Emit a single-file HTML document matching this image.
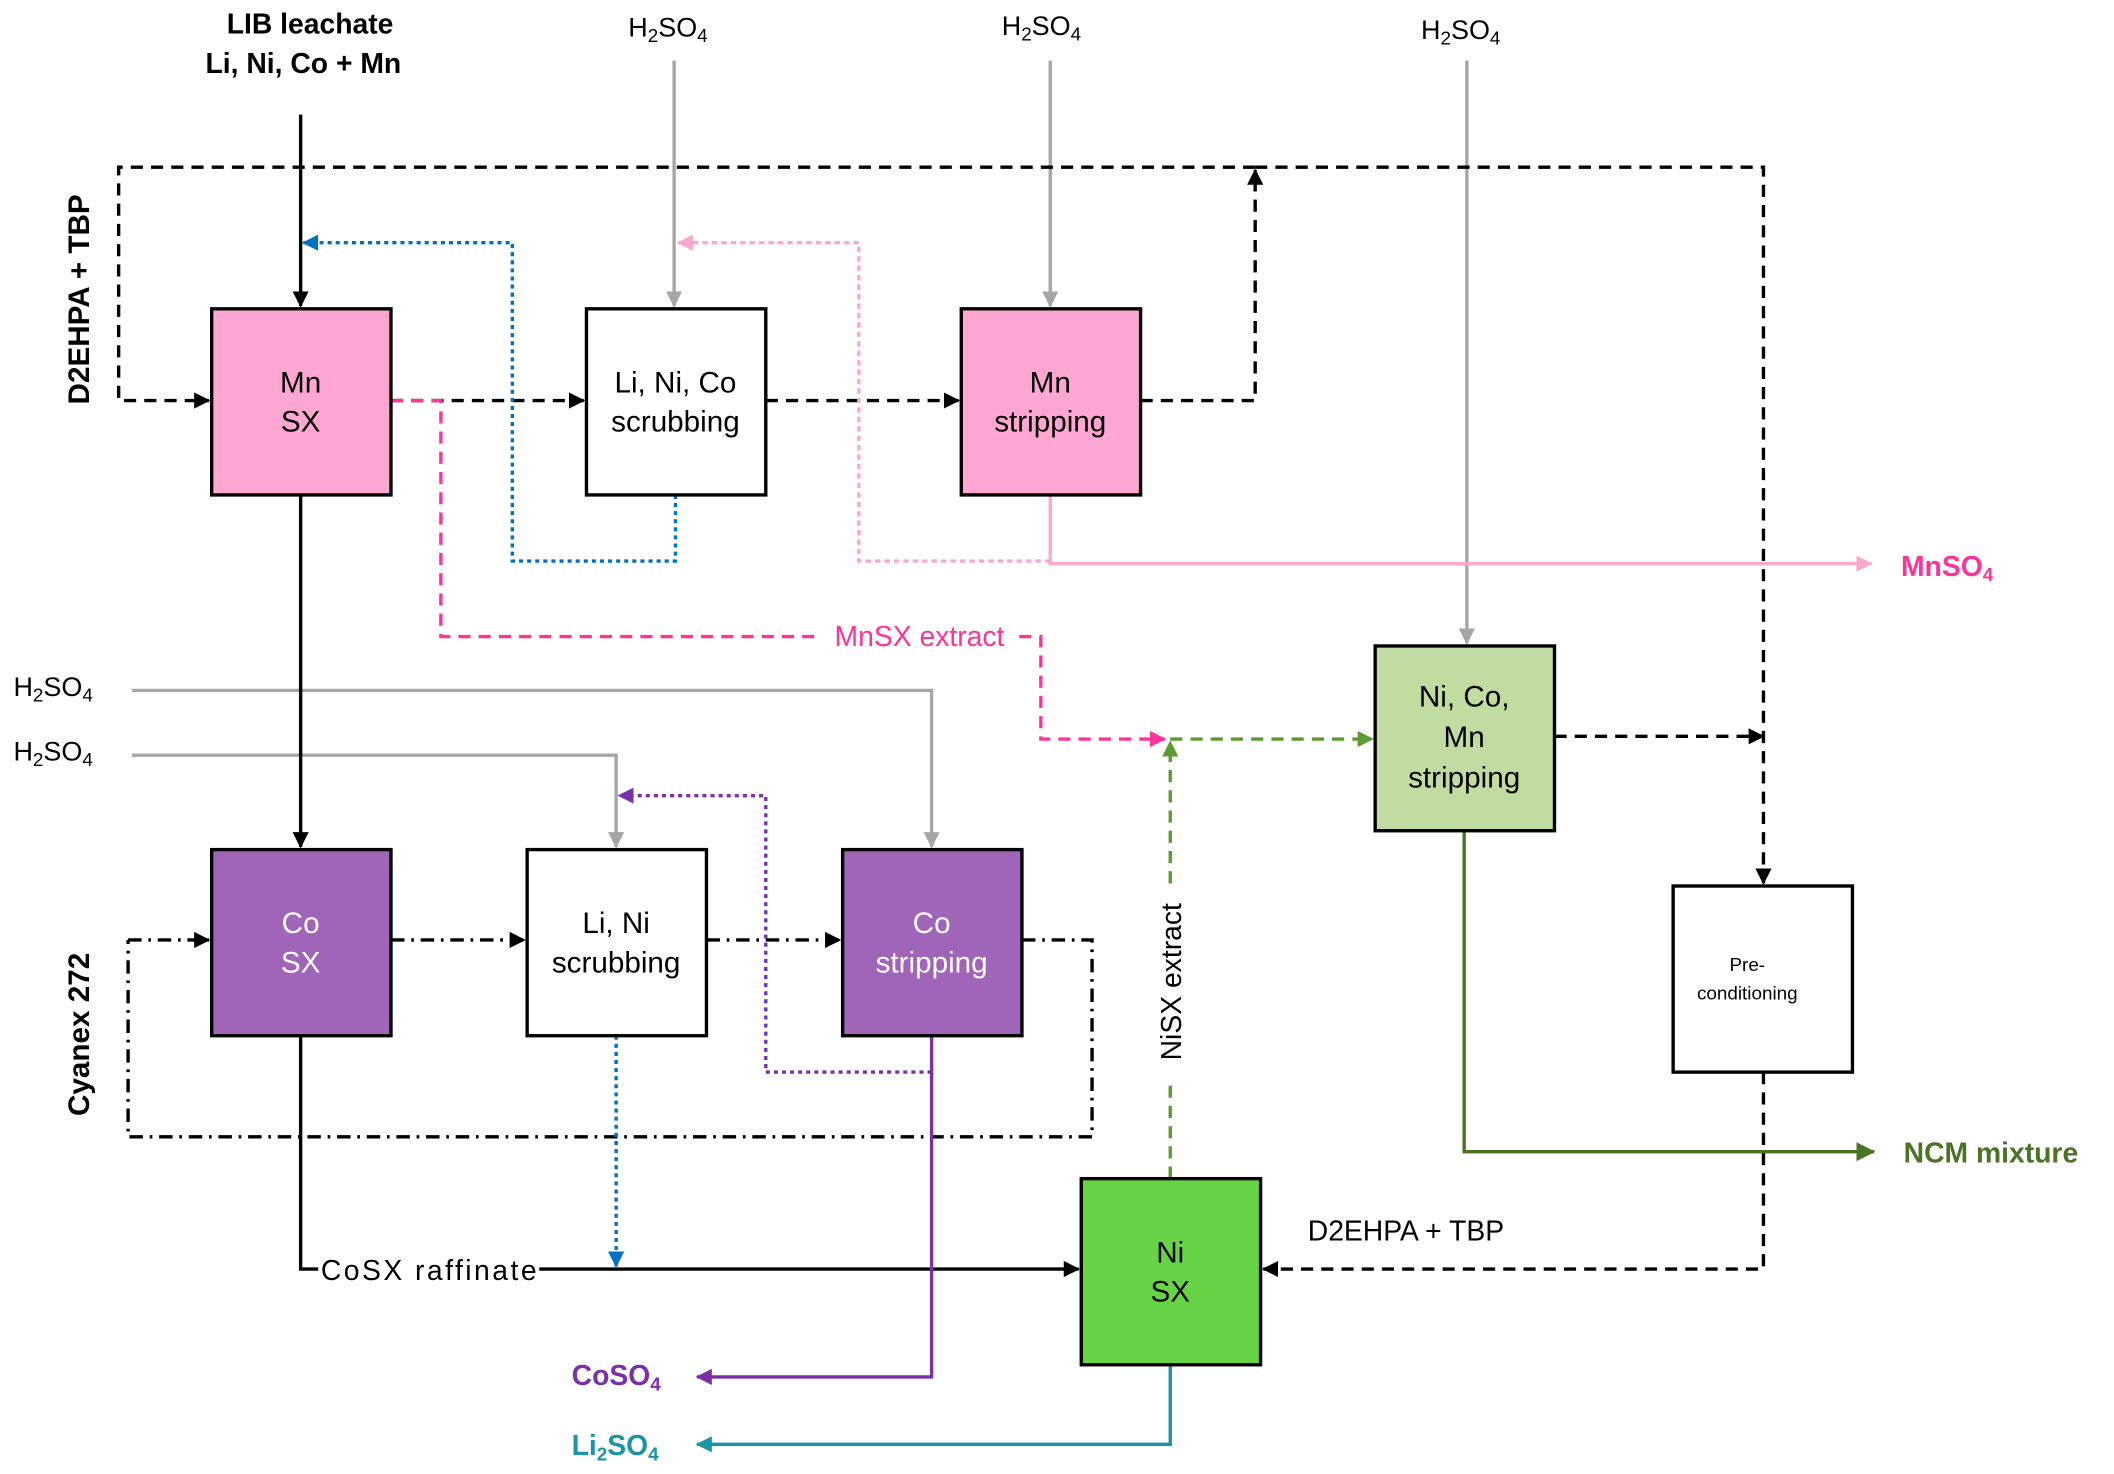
<!DOCTYPE html>
<html><head><meta charset="utf-8"><style>
html,body{margin:0;padding:0;background:#fff;}
svg{display:block;}
text{font-family:"Liberation Sans",Arial,sans-serif;}
</style></head><body>
<svg width="2114" height="1474" viewBox="0 0 1568 1093" preserveAspectRatio="none" xmlns="http://www.w3.org/2000/svg">
<defs>
<marker id="ak" markerWidth="12" markerHeight="12" refX="11" refY="6" orient="auto" markerUnits="userSpaceOnUse"><path d="M0,0 L12,6 L0,12 z" fill="#000"/></marker>
<marker id="ag" markerWidth="12" markerHeight="12" refX="11" refY="6" orient="auto" markerUnits="userSpaceOnUse"><path d="M0,0 L12,6 L0,12 z" fill="#a6a6a6"/></marker>
<marker id="ab" markerWidth="12" markerHeight="12" refX="11" refY="6" orient="auto" markerUnits="userSpaceOnUse"><path d="M0,0 L12,6 L0,12 z" fill="#0070c0"/></marker>
<marker id="alp" markerWidth="12" markerHeight="12" refX="11" refY="6" orient="auto" markerUnits="userSpaceOnUse"><path d="M0,0 L12,6 L0,12 z" fill="#f9a8cf"/></marker>
<marker id="ap" markerWidth="12" markerHeight="12" refX="11" refY="6" orient="auto" markerUnits="userSpaceOnUse"><path d="M0,0 L12,6 L0,12 z" fill="#ff3399"/></marker>
<marker id="agr" markerWidth="12" markerHeight="12" refX="11" refY="6" orient="auto" markerUnits="userSpaceOnUse"><path d="M0,0 L12,6 L0,12 z" fill="#5b9b30"/></marker>
<marker id="adg" markerWidth="14" markerHeight="14" refX="13" refY="7" orient="auto" markerUnits="userSpaceOnUse"><path d="M0,0 L14,7 L0,14 z" fill="#4a7326"/></marker>
<marker id="apu" markerWidth="12" markerHeight="12" refX="11" refY="6" orient="auto" markerUnits="userSpaceOnUse"><path d="M0,0 L12,6 L0,12 z" fill="#7b2fa8"/></marker>
<marker id="at" markerWidth="12" markerHeight="12" refX="11" refY="6" orient="auto" markerUnits="userSpaceOnUse"><path d="M0,0 L12,6 L0,12 z" fill="#1a95a8"/></marker>
</defs>

<g stroke="#a6a6a6" stroke-width="2.5" fill="none">
<path d="M500,45 V227" marker-end="url(#ag)"/>
<path d="M779,45 V227" marker-end="url(#ag)"/>
<path d="M1088,45 V477" marker-end="url(#ag)"/>
<path d="M98,512 H691 V628" marker-end="url(#ag)"/>
<path d="M98,560 H457 V628" marker-end="url(#ag)"/>
</g>

<g stroke="#000" stroke-width="2.5" fill="none" stroke-dasharray="9,6">
<path d="M931,124 H88 V297 H155" marker-end="url(#ak)"/>
<path d="M931,124 H1308 V655" marker-end="url(#ak)"/>
<path d="M290,297 H433" marker-end="url(#ak)"/>
<path d="M568,297 H711" marker-end="url(#ak)"/>
<path d="M846,297 H931 V126" marker-end="url(#ak)"/>
<path d="M1153,546 H1308" marker-end="url(#ak)"/>
<path d="M1308,795 V941 H937" marker-end="url(#ak)"/>
</g>

<g stroke="#000" stroke-width="2.5" fill="none">
<path d="M223,85 V227" marker-end="url(#ak)"/>
<path d="M223,367 V628" marker-end="url(#ak)"/>
<path d="M223,768 V941 H236 M400,941 H800" marker-end="url(#ak)"/>
</g>

<g stroke="#000" stroke-width="2.5" fill="none" stroke-dasharray="10,5,2,5">
<path d="M95,697 H155" marker-end="url(#ak)"/>
<path d="M290,697 H389" marker-end="url(#ak)"/>
<path d="M524,697 H623" marker-end="url(#ak)"/>
<path d="M758,697 H810 V843 H95 V697"/>
</g>

<g stroke="#0070c0" stroke-width="2.5" fill="none" stroke-dasharray="3,3">
<path d="M501,367 V416 H380 V180 H225" marker-end="url(#ab)"/>
<path d="M457,768 V939" marker-end="url(#ab)"/>
</g>
<path d="M779,416 H637 V180 H503" stroke="#f9a8cf" stroke-width="2.5" fill="none" stroke-dasharray="4,3" marker-end="url(#alp)"/>
<path d="M779,367 V418 H1388" stroke="#f9a8cf" stroke-width="2.5" fill="none" marker-end="url(#alp)"/>
<path d="M290,297 H327 V472 H608 M756,472 H772 V548 H864" stroke="#ff3399" stroke-width="2.5" fill="none" stroke-dasharray="9,6" marker-end="url(#ap)"/>
<g stroke="#5b9b30" stroke-width="2.5" fill="none" stroke-dasharray="9,6">
<path d="M868,874 V800 M868,655 V550" marker-end="url(#agr)"/>
<path d="M868,548 H1018" marker-end="url(#agr)"/>
</g>
<path d="M691,795 H568 V590 H459" stroke="#7b2fa8" stroke-width="2.5" fill="none" stroke-dasharray="3,3" marker-end="url(#apu)"/>
<path d="M691,768 V1021 H517" stroke="#7b2fa8" stroke-width="2.5" fill="none" marker-end="url(#apu)"/>
<path d="M868,1012 V1071 H517" stroke="#1a95a8" stroke-width="2.5" fill="none" marker-end="url(#at)"/>
<path d="M1086,616 V854 H1390" stroke="#4a7326" stroke-width="2.5" fill="none" marker-end="url(#adg)"/>

<g stroke="#000" stroke-width="2.5">
<rect x="157" y="229" width="133" height="138" fill="#ffa6d2"/>
<rect x="435" y="229" width="133" height="138" fill="#fff"/>
<rect x="713" y="229" width="133" height="138" fill="#ffa6d2"/>
<rect x="1020" y="479" width="133" height="137" fill="#c0dca0"/>
<rect x="1241" y="657" width="133" height="138" fill="#fff"/>
<rect x="157" y="630" width="133" height="138" fill="#a064b8"/>
<rect x="391" y="630" width="133" height="138" fill="#fff"/>
<rect x="625" y="630" width="133" height="138" fill="#a064b8"/>
<rect x="802" y="874" width="133" height="138" fill="#66d444"/>
</g>

<g font-size="22" text-anchor="middle" fill="#000">
<text x="223" y="291">Mn</text><text x="223" y="320">SX</text>
<text x="501" y="291">Li, Ni, Co</text><text x="501" y="320">scrubbing</text>
<text x="779" y="291">Mn</text><text x="779" y="320">stripping</text>
<text x="1086" y="524">Ni, Co,</text><text x="1086" y="554">Mn</text><text x="1086" y="584">stripping</text>
<text x="1296" y="720" font-size="14">Pre-</text><text x="1296" y="741" font-size="14">conditioning</text>
<text x="223" y="692" fill="#fff">Co</text><text x="223" y="721" fill="#fff">SX</text>
<text x="457" y="692">Li, Ni</text><text x="457" y="721">scrubbing</text>
<text x="691" y="692" fill="#fff">Co</text><text x="691" y="721" fill="#fff">stripping</text>
<text x="868" y="936">Ni</text><text x="868" y="965">SX</text>
</g>

<g font-size="20" fill="#000">
<text x="466" y="27">H<tspan font-size="14" dy="4">2</tspan><tspan dy="-4">SO</tspan><tspan font-size="14" dy="4">4</tspan></text>
<text x="743" y="26">H<tspan font-size="14" dy="4">2</tspan><tspan dy="-4">SO</tspan><tspan font-size="14" dy="4">4</tspan></text>
<text x="1054" y="29">H<tspan font-size="14" dy="4">2</tspan><tspan dy="-4">SO</tspan><tspan font-size="14" dy="4">4</tspan></text>
<text x="10" y="516">H<tspan font-size="14" dy="4">2</tspan><tspan dy="-4">SO</tspan><tspan font-size="14" dy="4">4</tspan></text>
<text x="10" y="564">H<tspan font-size="14" dy="4">2</tspan><tspan dy="-4">SO</tspan><tspan font-size="14" dy="4">4</tspan></text>
<text x="238" y="949" font-size="21" textLength="160" lengthAdjust="spacing">CoSX raffinate</text>
<text x="970" y="920" font-size="21">D2EHPA + TBP</text>
</g>
<text x="230" y="25" font-size="21" font-weight="bold" text-anchor="middle">LIB leachate</text>
<text x="225" y="54" font-size="21" font-weight="bold" text-anchor="middle">Li, Ni, Co + Mn</text>
<text transform="translate(66,222) rotate(-90)" font-size="22" font-weight="bold" text-anchor="middle">D2EHPA + TBP</text>
<text transform="translate(66,767) rotate(-90)" font-size="22" font-weight="bold" text-anchor="middle">Cyanex 272</text>
<text x="682" y="479" font-size="21" fill="#ff3399" text-anchor="middle">MnSX extract</text>
<text transform="translate(876,728) rotate(-90)" font-size="21" text-anchor="middle">NiSX extract</text>
<text x="1410" y="427" font-size="21" font-weight="bold" fill="#ff3399">MnSO<tspan font-size="14" dy="4">4</tspan></text>
<text x="1412" y="862" font-size="21" font-weight="bold" fill="#4a7326">NCM mixture</text>
<text x="424" y="1027" font-size="21" font-weight="bold" fill="#7b2fa8">CoSO<tspan font-size="14" dy="4">4</tspan></text>
<text x="424" y="1079" font-size="21" font-weight="bold" fill="#1a95a8">Li<tspan font-size="14" dy="4">2</tspan><tspan dy="-4">SO</tspan><tspan font-size="14" dy="4">4</tspan></text>
</svg>
</body></html>
